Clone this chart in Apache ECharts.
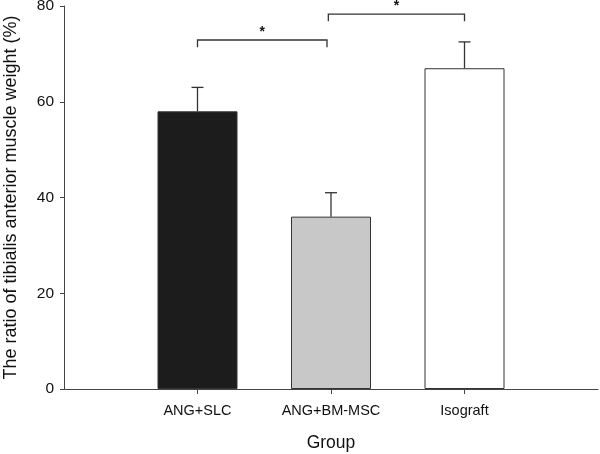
<!DOCTYPE html>
<html>
<head>
<meta charset="utf-8">
<script src="https://cdn.jsdelivr.net/npm/echarts@6/dist/echarts.min.js"></script>
<style>html,body{margin:0;padding:0;background:#fff;}#c{width:600px;height:454px;}</style>
</head>
<body>
<div id="c"></div>
<script>
const categories = ['ANG+SLC', 'ANG+BM-MSC', 'Isograft'];
const categoryPos = [1, 2, 3];
const means = [58, 36, 67];
const errors = [5, 5, 5.5];
const barColors = ['#1c1c1c', '#c8c8c8', '#ffffff'];
const yTicks = [0, 20, 40, 60, 80];
// bracket: [xStart, xEnd, yLine, yLegEnd]
const brackets = [[1, 1.97, 72.9, 71.4], [1.98, 3, 78.3, 76.8]];
const sigLabels = ['*', '*'];

const FONT = 'Liberation Sans, Arial, sans-serif';
const chart = echarts.init(document.getElementById('c'), null, {renderer: 'canvas'});

const option = {
  animation: false,
  backgroundColor: '#fff',
  grid: {left: 64, right: 2, top: 6, bottom: 65, containLabel: false, outerBoundsMode: 'none'},
  xAxis: {
    type: 'value', min: 0, max: 4,
    name: 'Group', nameLocation: 'middle', nameGap: 45,
    nameTextStyle: {fontFamily: FONT, fontSize: 17.5, color: '#111'},
    splitLine: {show: false},
    axisLine: {show: true, lineStyle: {color: '#444', width: 1}},
    axisTick: {show: true, length: 5, customValues: categoryPos, lineStyle: {color: '#444'}},
    axisLabel: {customValues: categoryPos, margin: 14, fontFamily: FONT, fontSize: 14.5, color: '#111',
      formatter: v => categories[categoryPos.indexOf(v)] || ''}
  },
  yAxis: {
    type: 'value', min: yTicks[0], max: yTicks[yTicks.length - 1], interval: 20,
    name: 'The ratio of tibialis anterior muscle weight (%)', nameLocation: 'middle', nameGap: 44,
    nameTextStyle: {fontFamily: FONT, fontSize: 18, color: '#111'},
    splitLine: {show: false},
    axisLine: {show: true, lineStyle: {color: '#444', width: 1}},
    axisTick: {show: true, length: 4, lineStyle: {color: '#444'}},
    axisLabel: {margin: 10, fontFamily: FONT, fontSize: 15.5, color: '#111'}
  },
  series: [
    {
      type: 'bar', barWidth: 80,
      data: means.map((m, i) => ({value: [categoryPos[i], m],
        itemStyle: {color: barColors[i], borderColor: '#333', borderWidth: 1}})),
      z: 2
    },
    {
      type: 'custom', z: 3,
      data: means.map((m, i) => [categoryPos[i], m, m + errors[i]]),
      renderItem: (params, api) => {
        const p0 = api.coord([api.value(0), api.value(1)]);
        const p1 = api.coord([api.value(0), api.value(2)]);
        const hw = 6;
        return {type: 'group', children: [
          {type: 'line', shape: {x1: p0[0], y1: p0[1], x2: p1[0], y2: p1[1]}, style: {stroke: '#333', lineWidth: 1.3}},
          {type: 'line', shape: {x1: p1[0] - hw, y1: p1[1], x2: p1[0] + hw, y2: p1[1]}, style: {stroke: '#333', lineWidth: 1.3}}
        ]};
      }
    },
    {
      type: 'custom', z: 3,
      data: brackets.map(b => b),
      renderItem: (params, api) => {
        const a = api.coord([api.value(0), api.value(2)]);
        const b = api.coord([api.value(1), api.value(2)]);
        const a2 = api.coord([api.value(0), api.value(3)]);
        const b2 = api.coord([api.value(1), api.value(3)]);
        return {type: 'group', children: [
          {type: 'polyline', shape: {points: [a2, a, b, b2]}, style: {stroke: '#333', lineWidth: 1.3, fill: null}},
          {type: 'text', x: (a[0] + b[0]) / 2, y: a[1] - 1,
            style: {text: sigLabels[params.dataIndex], fontFamily: FONT, fontSize: 14, fontWeight: 'bold', fill: '#111',
              align: 'center', verticalAlign: 'bottom'}}
        ]};
      }
    }
  ]
};
chart.setOption(option);
</script>
</body>
</html>
